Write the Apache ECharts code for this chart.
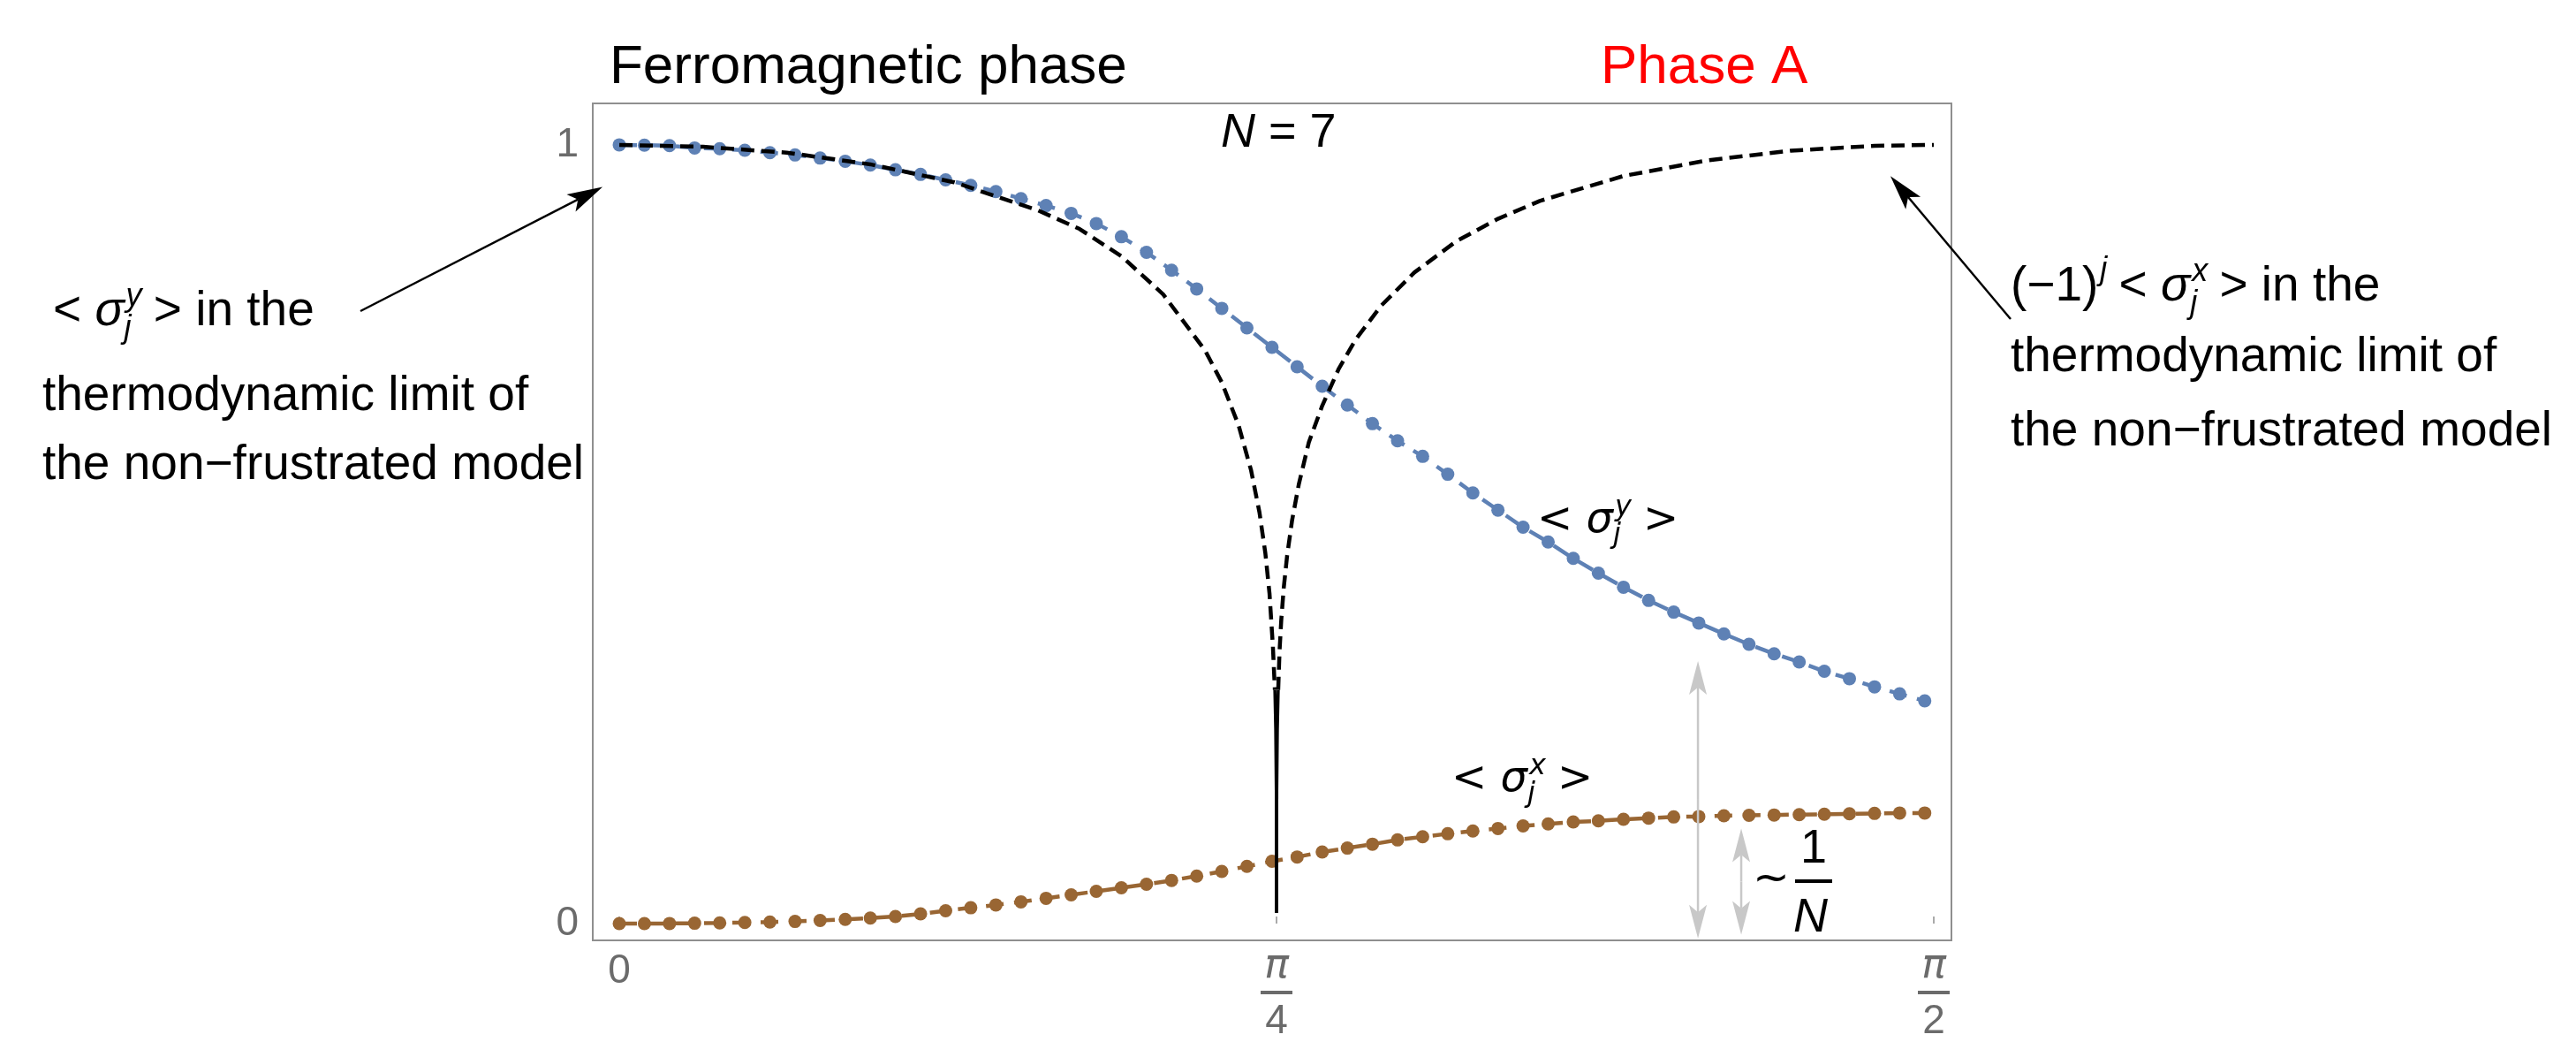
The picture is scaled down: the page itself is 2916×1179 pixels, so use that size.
<!DOCTYPE html>
<html>
<head>
<meta charset="utf-8">
<script src="https://cdn.jsdelivr.net/npm/echarts@6/dist/echarts.min.js"></script>
<style>
  html, body { margin: 0; padding: 0; background: #ffffff; }
  #chart { width: 2916px; height: 1179px; }
</style>
</head>
<body>
<div id="chart"></div>
<script>
// Coupling angle samples (radians) of the N = 7 chain
const theta = [0, 0.03, 0.06, 0.09, 0.12, 0.15, 0.18, 0.21, 0.24, 0.27, 0.30, 0.33, 0.36, 0.39, 0.42,
  0.45, 0.48, 0.51, 0.54, 0.57, 0.60, 0.63, 0.66, 0.69, 0.72, 0.75, 0.78, 0.81, 0.84, 0.87, 0.90,
  0.93, 0.96, 0.99, 1.02, 1.05, 1.08, 1.11, 1.14, 1.17, 1.20, 1.23, 1.26, 1.29, 1.32, 1.35, 1.38,
  1.41, 1.44, 1.47, 1.50, 1.53, 1.56];

// <sigma^y_j> for N = 7
const sigmaY = [1.000, 0.9995, 0.999, 0.996, 0.995, 0.993, 0.990, 0.987, 0.983, 0.979, 0.974,
  0.968, 0.962, 0.955, 0.948, 0.940, 0.931, 0.922, 0.912, 0.899, 0.882, 0.862, 0.839, 0.815,
  0.790, 0.765, 0.740, 0.715, 0.690, 0.666, 0.642, 0.620, 0.600, 0.577, 0.553, 0.531, 0.509,
  0.490, 0.469, 0.450, 0.432, 0.415, 0.400, 0.386, 0.372, 0.3586, 0.3465, 0.336, 0.324, 0.3145,
  0.304, 0.295, 0.286];

// <sigma^x_j> for N = 7
const sigmaX = [0, 0, 0.0002, 0.0005, 0.0009, 0.0014, 0.002, 0.0028, 0.004, 0.0055, 0.0072,
  0.0092, 0.0125, 0.0165, 0.0204, 0.024, 0.028, 0.0325, 0.037, 0.0415, 0.046, 0.0506, 0.0555,
  0.061, 0.067, 0.0735, 0.080, 0.0856, 0.092, 0.097, 0.102, 0.1075, 0.1115, 0.1154, 0.119,
  0.1222, 0.1255, 0.128, 0.1305, 0.132, 0.134, 0.1355, 0.137, 0.1375, 0.1385, 0.139, 0.1395,
  0.140, 0.1405, 0.141, 0.1415, 0.142, 0.142];

// Thermodynamic limit of the non-frustrated model: <sigma^y_j> below pi/4
const limitLeft = [[0, 1.0], [0.1, 0.9975], [0.2, 0.990], [0.3, 0.975], [0.4, 0.952],
  [0.5, 0.916], [0.55, 0.892], [0.6, 0.857], [0.65, 0.808], [0.7, 0.736], [0.72, 0.695],
  [0.74, 0.640], [0.755, 0.582], [0.765, 0.528], [0.772, 0.476], [0.777, 0.424],
  [0.781, 0.357], [0.7834, 0.30]];

// Thermodynamic limit of the non-frustrated model: (-1)^j <sigma^x_j> above pi/4
const limitRight = [[0.7874, 0.30], [0.789, 0.350], [0.791, 0.389],
  [0.794, 0.431], [0.798, 0.472], [0.804, 0.518], [0.812, 0.564], [0.824, 0.618],
  [0.84, 0.665], [0.86, 0.713], [0.88, 0.750], [0.91, 0.793], [0.95, 0.836], [1.0, 0.876],
  [1.05, 0.905], [1.1, 0.928], [1.2, 0.960], [1.3, 0.980], [1.4, 0.9925], [1.5, 0.9987],
  [1.5708, 1.0]];

// Where both limits plunge to zero at the transition the dashes merge into one stroke
const cuspLeft = [[0.7834, 0.30], [0.7844, 0.25], [0.7851, 0.17], [0.7854, 0.0136]];
const cuspRight = [[0.7874, 0.30], [0.7864, 0.25], [0.7857, 0.17], [0.7854, 0.0136]];

// Axis ticks
const xTickValues = [0, Math.PI / 4, Math.PI / 2];
const xTickNumer = ['0', 'π', 'π'];
const xTickDenom = ['', '4', '2'];
const yTickValues = [0, 1];
const yTickLabels = ['0', '1'];

// Double arrows marking the gap sizes: [x, yFrom, yTo]
const gapArrows = [[1.289, 0.337, -0.019], [1.3407, 0.122, -0.014]];

const BLUE = '#5e81b5';
const BROWN = '#996633';
const GREY_AXIS = '#8f8f8f';
const GREY_TEXT = '#6b6b6b';
const SANS = "'Liberation Sans', Arial, sans-serif";
const MATH = "'DejaVu Sans', sans-serif";

const chart = echarts.init(document.getElementById('chart'), null, { renderer: 'canvas', width: 2916, height: 1179 });

const pairs = (xs, ys) => xs.map((x, i) => [x, ys[i]]);

const blackDashed = { color: '#000000', width: 4.5, type: [15, 8] };
const blackSolid = { color: '#000000', width: 3.5, type: 'solid' };

const option = {
  animation: false,
  backgroundColor: '#ffffff',
  textStyle: { fontFamily: SANS },
  grid: {
    left: 671, top: 117, width: 1538, height: 950,
    show: true, borderColor: GREY_AXIS, borderWidth: 2, backgroundColor: 'transparent'
  },
  xAxis: {
    type: 'value', min: -0.0317, max: 1.5919,
    splitLine: { show: false },
    axisLine: { show: false },
    axisTick: { show: true, inside: true, length: 8, customValues: xTickValues, lineStyle: { color: GREY_AXIS, width: 1.5 } },
    axisLabel: {
      show: true, margin: 12, customValues: xTickValues, color: GREY_TEXT,
      formatter: (v) => {
        const i = xTickValues.findIndex(t => Math.abs(t - v) < 1e-6);
        if (i < 0) return '';
        if (!xTickDenom[i]) return '{n|' + xTickNumer[i] + '}';
        return '{pi|' + xTickNumer[i] + '}\n{bar| }\n{d|' + xTickDenom[i] + '}';
      },
      rich: {
        n: { fontSize: 46, fontFamily: SANS, color: GREY_TEXT, lineHeight: 46 },
        pi: { fontSize: 46, fontFamily: MATH, fontStyle: 'italic', color: GREY_TEXT, lineHeight: 36 },
        bar: { width: 36, height: 4, lineHeight: 22, backgroundColor: GREY_TEXT, fontSize: 4 },
        d: { fontSize: 46, fontFamily: SANS, color: GREY_TEXT, lineHeight: 44 }
      }
    }
  },
  yAxis: {
    type: 'value', min: -0.0215, max: 1.0532,
    splitLine: { show: false },
    axisLine: { show: false },
    axisTick: { show: true, inside: true, length: 8, customValues: yTickValues, lineStyle: { color: GREY_AXIS, width: 1.5 } },
    axisLabel: {
      show: true, margin: 16, customValues: yTickValues, color: GREY_TEXT, fontSize: 46, fontFamily: SANS,
      formatter: (v) => {
        const i = yTickValues.findIndex(t => Math.abs(t - v) < 1e-6);
        return i < 0 ? '' : yTickLabels[i];
      }
    }
  },
  series: [
    {
      name: 'sigmaY', type: 'line', data: pairs(theta, sigmaY), z: 2,
      symbol: 'circle', symbolSize: 15, showSymbol: true,
      itemStyle: { color: BLUE },
      lineStyle: { color: BLUE, width: 4.5, type: [20, 12] }
    },
    {
      name: 'sigmaX', type: 'line', data: pairs(theta, sigmaX), z: 2,
      symbol: 'circle', symbolSize: 15, showSymbol: true,
      itemStyle: { color: BROWN },
      lineStyle: { color: BROWN, width: 4.5, type: [20, 12] }
    },
    { name: 'limitLeft', type: 'line', data: limitLeft, z: 4, symbol: 'none', lineStyle: blackDashed },
    { name: 'limitRight', type: 'line', data: limitRight, z: 4, symbol: 'none', lineStyle: blackDashed },
    { name: 'cuspLeft', type: 'line', data: cuspLeft, z: 4, symbol: 'none', lineStyle: blackSolid },
    { name: 'cuspRight', type: 'line', data: cuspRight, z: 4, symbol: 'none', lineStyle: blackSolid }
  ]
};

chart.setOption(option);

// ---- annotations ----
const mctx = document.createElement('canvas').getContext('2d');

// Lays out a run of text pieces on one baseline; a piece with stack:true shares
// the x position of the piece before it (sub/superscript pairs).
function textRuns(x0, baseline, runs, fill) {
  const out = [];
  let x = x0, lastX = x0, lastW = 0;
  runs.forEach(r => {
    const font = (r.italic ? 'italic ' : '') + r.size + 'px ' + r.family;
    mctx.font = font;
    const w = mctx.measureText(r.t).width;
    let rx;
    if (r.stack) {
      rx = lastX;
      x = lastX + Math.max(lastW, w);
    } else {
      rx = x; lastX = x; lastW = w; x += w;
    }
    out.push({
      type: 'text', z: 100,
      x: rx + (r.dx || 0), y: baseline + (r.dy || 0) - 0.35 * r.size,
      style: {
        text: r.t, font: font, fill: r.fill || fill,
        align: 'left', verticalAlign: 'middle', textAlign: 'left', textVerticalAlign: 'middle'
      }
    });
  });
  return out;
}

function sigmaRuns(size, family, sup, trail) {
  const s = Math.round(size * 0.66);
  return [
    { t: '< ', size, family },
    { t: 'σ', size, family, italic: true },
    { t: sup, size: s, family, italic: true, dy: -size * 0.42, dx: 2 },
    { t: 'j', size: s, family, italic: true, dy: size * 0.22, stack: true },
    { t: ' >' + (trail || ''), size, family }
  ];
}

function arrow(from, tip, color, len, half, width) {
  const dx = tip[0] - from[0], dy = tip[1] - from[1];
  const L = Math.hypot(dx, dy), ux = dx / L, uy = dy / L, px = -uy, py = ux;
  const bx = tip[0] - ux * len, by = tip[1] - uy * len;
  const nx = tip[0] - ux * len * 0.78, ny = tip[1] - uy * len * 0.78;
  return [
    { type: 'line', z: 90, shape: { x1: from[0], y1: from[1], x2: nx, y2: ny }, style: { stroke: color, lineWidth: width } },
    { type: 'polygon', z: 91, shape: { points: [tip, [bx + px * half, by + py * half], [nx, ny], [bx - px * half, by - py * half]] }, style: { fill: color } }
  ];
}

function doubleArrow(p1, p2, color, len, half, width) {
  const mid = [(p1[0] + p2[0]) / 2, (p1[1] + p2[1]) / 2];
  return arrow(mid, p1, color, len, half, width).concat(arrow(mid, p2, color, len, half, width));
}

function drawAnnotations() {
  const toPx = (p) => chart.convertToPixel({ gridIndex: 0 }, p);
  let els = [];
  const TXT = 55;

  // phase headings
  els = els.concat(textRuns(690, 99, [{ t: 'Ferromagnetic phase', size: 62, family: SANS }], '#000000'));
  els = els.concat(textRuns(1812, 99, [{ t: 'Phase A', size: 62, family: SANS }], '#ff0000'));

  // chain length
  els = els.concat(textRuns(1382, 170, [
    { t: 'N', size: 54, family: SANS, italic: true },
    { t: ' = 7', size: 54, family: SANS }
  ], '#000000'));

  // curve labels inside the frame
  els = els.concat(textRuns(1740, 606, sigmaRuns(48, MATH, 'y'), '#000000'));
  els = els.concat(textRuns(1643, 899, sigmaRuns(48, MATH, 'x'), '#000000'));

  // left explanation
  els = els.concat(textRuns(60, 372, sigmaRuns(TXT, SANS, 'y', ' in the'), '#000000'));
  els = els.concat(textRuns(48, 468, [{ t: 'thermodynamic limit of', size: TXT, family: SANS }], '#000000'));
  els = els.concat(textRuns(48, 546, [{ t: 'the non\u2212frustrated model', size: TXT, family: SANS }], '#000000'));

  // right explanation
  const rightLine1 = [
    { t: '(\u22121)', size: TXT, family: SANS },
    { t: 'j', size: 36, family: SANS, italic: true, dy: -25, dx: 2 },
    { t: ' ', size: TXT, family: SANS }
  ].concat(sigmaRuns(TXT, SANS, 'x', ' in the'));
  els = els.concat(textRuns(2276, 344, rightLine1, '#000000'));
  els = els.concat(textRuns(2276, 424, [{ t: 'thermodynamic limit of', size: TXT, family: SANS }], '#000000'));
  els = els.concat(textRuns(2276, 508, [{ t: 'the non\u2212frustrated model', size: TXT, family: SANS }], '#000000'));

  // pointer arrows to the limiting curves
  els = els.concat(arrow([408, 352], toPx([-0.02, 0.946]), '#000000', 40, 11, 2.5));
  els = els.concat(arrow([2276, 361], toPx([1.519, 0.960]), '#000000', 40, 11, 2.5));

  // gap double arrows
  gapArrows.forEach(g => {
    els = els.concat(doubleArrow(toPx([g[0], g[1]]), toPx([g[0], g[2]]), '#c8c8c8', 38, 10, 2.5));
  });

  // ~ 1/N
  els = els.concat(textRuns(1984, 1014, [{ t: '~', size: 50, family: MATH }], '#000000'));
  els = els.concat(textRuns(2038, 980, [{ t: '1', size: 54, family: SANS }], '#000000'));
  els.push({ type: 'rect', z: 100, shape: { x: 2032, y: 995, width: 42, height: 4 }, style: { fill: '#000000' } });
  els = els.concat(textRuns(2030, 1058, [{ t: 'N', size: 54, family: SANS, italic: true }], '#000000'));

  chart.setOption({ graphic: { elements: els } });
}

drawAnnotations();
</script>
</body>
</html>
